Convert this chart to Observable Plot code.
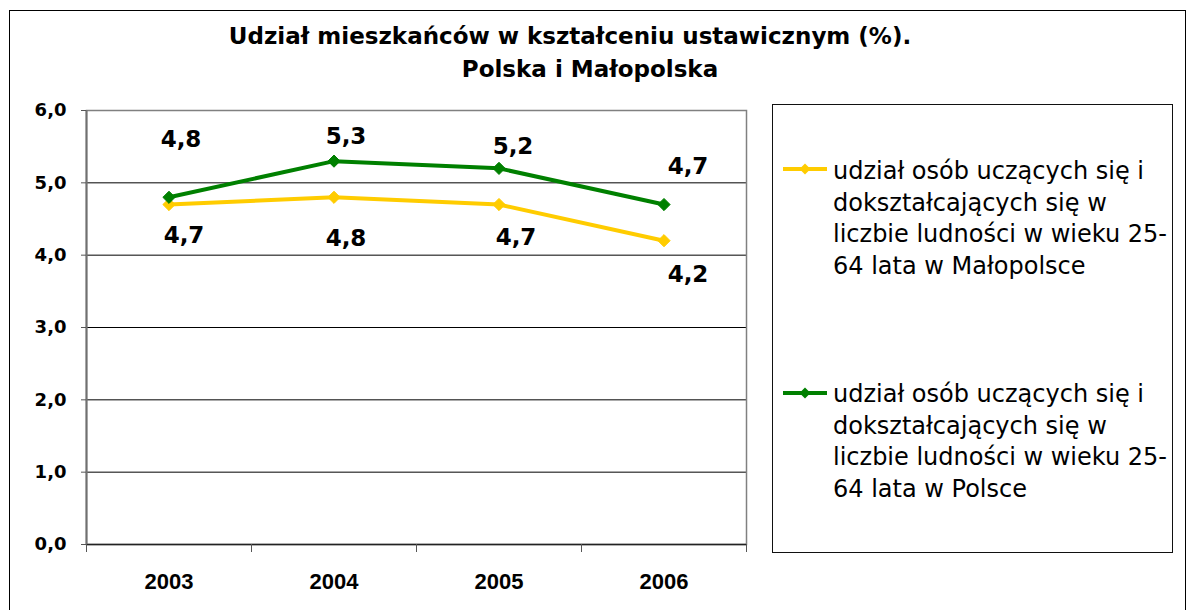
<!DOCTYPE html>
<html><head><meta charset="utf-8">
<script src="https://cdn.jsdelivr.net/npm/d3@7"></script>
<script src="https://cdn.jsdelivr.net/npm/@observablehq/plot@0.6"></script>
<style>
html,body{margin:0;padding:0;background:#fff;overflow:hidden}
#wrap{position:relative;width:1192px;height:610px;overflow:hidden}
#wrap svg.plot{position:absolute;left:0;top:0}
.outer{position:absolute;left:9px;top:10px;width:1177px;height:700px;border:1.5px solid #000;box-sizing:border-box}
.title{position:absolute;font-family:"DejaVu Sans",sans-serif;font-weight:bold;font-size:23px;line-height:33px;white-space:nowrap;color:#000;transform:translateX(-50%)}
.legend{position:absolute;left:772px;top:104px;width:401px;height:449px;border:1.5px solid #111;box-sizing:border-box;background:#fff}
.entry{position:absolute;font-family:"DejaVu Sans",sans-serif;font-size:24px;line-height:31.7px;color:#000;white-space:nowrap}
.sw{position:absolute}
</style></head><body><div id="wrap"></div>
<script>
const years = ["2003", "2004", "2005", "2006"];
const malopolska = [4.7, 4.8, 4.7, 4.2];
const polska = [4.8, 5.3, 5.2, 4.7];
const yTicks = [0, 1, 2, 3, 4, 5, 6];
const titleLines = ["Udział mieszkańców w kształceniu ustawicznym (%).", "Polska i Małopolska"];
const legendMalopolska = ["udział osób uczących się i", "dokształcających się w", "liczbie ludności w wieku 25-", "64 lata w Małopolsce"];
const legendPolska = ["udział osób uczących się i", "dokształcających się w", "liczbie ludności w wieku 25-", "64 lata w Polsce"];

// styles
const YELLOW = "#FFCC00", GREEN = "#008000";
const offGreen = [[12, -58], [12, -25], [14, -22], [24, -38]];
const offYellow = [[15, 31], [12, 41], [17, 33], [24, 34]];

const fmt = v => v.toFixed(1).replace(".", ",");
const rowsM = years.map((y, i) => ({year: y, idx: i, v: malopolska[i]}));
const rowsP = years.map((y, i) => ({year: y, idx: i, v: polska[i]}));
const X = d => d.idx + 0.5;

function labels(rows, offs) {
  return rows.map((r, i) => Plot.text([r], {
    x: X, y: "v", text: d => fmt(d.v), dx: offs[i][0], dy: offs[i][1],
    fontFamily: "DejaVu Sans", fontWeight: "bold", fontSize: 23, fill: "#000"
  }));
}

const svg = Plot.plot({
  width: 1192, height: 610,
  marginLeft: 86, marginRight: 446, marginTop: 110, marginBottom: 66,
  x: {type: "linear", domain: [0, years.length]},
  y: {domain: [0, 6]},
  style: {background: "transparent", overflow: "visible"},
  marks: [
    Plot.ruleY(yTicks.slice(1), {stroke: "#000", strokeWidth: 1}),
    Plot.frame({stroke: "#808080", strokeWidth: 1.5}),
    Plot.ruleY([0], {stroke: "#222", strokeWidth: 1.5}),
    Plot.ruleX([0], {stroke: "#707070", strokeWidth: 2}),
    Plot.axisY({ticks: yTicks, tickFormat: fmt, tickSize: 5, tickPadding: 15, label: null,
      stroke: "#555", fill: "#000", fontFamily: "DejaVu Sans", fontWeight: "bold", fontSize: 18}),
    Plot.axisX({ticks: d3.range(years.length + 1), tickFormat: () => "", tickSize: 8, label: null, stroke: "#555"}),
    Plot.axisX({ticks: years.map((_, i) => i + 0.5), tickFormat: v => years[Math.floor(v)], tickSize: 0, tickPadding: 29, label: null,
      fill: "#000", fontFamily: "Liberation Sans", fontWeight: "bold", fontSize: 22}),
    Plot.line(rowsM, {x: X, y: "v", stroke: YELLOW, strokeWidth: 4, strokeLinejoin: "round"}),
    Plot.dot(rowsM, {x: X, y: "v", symbol: "diamond2", r: 5.5, fill: YELLOW, stroke: YELLOW, strokeWidth: 1}),
    Plot.line(rowsP, {x: X, y: "v", stroke: GREEN, strokeWidth: 4, strokeLinejoin: "round"}),
    Plot.dot(rowsP, {x: X, y: "v", symbol: "diamond2", r: 5.5, fill: GREEN, stroke: GREEN, strokeWidth: 1}),
    ...labels(rowsP, offGreen),
    ...labels(rowsM, offYellow)
  ]
});
svg.classList.add("plot");

const wrap = document.getElementById("wrap");
const outer = document.createElement("div"); outer.className = "outer"; wrap.appendChild(outer);
wrap.appendChild(svg);

const titleCenters = [570, 590], titleTops = [20, 53];
titleLines.forEach((t, i) => {
  const d = document.createElement("div");
  d.className = "title"; d.textContent = t;
  d.style.left = titleCenters[i] + "px"; d.style.top = titleTops[i] + "px";
  wrap.appendChild(d);
});

const legend = document.createElement("div"); legend.className = "legend"; wrap.appendChild(legend);
function entry(lines, color, symY, textTop) {
  const ns = "http://www.w3.org/2000/svg";
  const s = document.createElementNS(ns, "svg");
  s.setAttribute("class", "sw"); s.setAttribute("width", 46); s.setAttribute("height", 14);
  s.style.left = "782px"; s.style.top = (symY - 7) + "px";
  s.innerHTML = `<line x1="1" y1="7" x2="45" y2="7" stroke="${color}" stroke-width="4"/>` +
    `<path d="M23 1.5 L28.5 7 L23 12.5 L17.5 7 Z" fill="${color}"/>`;
  wrap.appendChild(s);
  const t = document.createElement("div"); t.className = "entry";
  t.style.left = "833px"; t.style.top = textTop + "px";
  t.innerHTML = lines.map(l => `<div>${l}</div>`).join("");
  wrap.appendChild(t);
}
entry(legendMalopolska, YELLOW, 169, 156);
entry(legendPolska, GREEN, 393, 379);
</script></body></html>
